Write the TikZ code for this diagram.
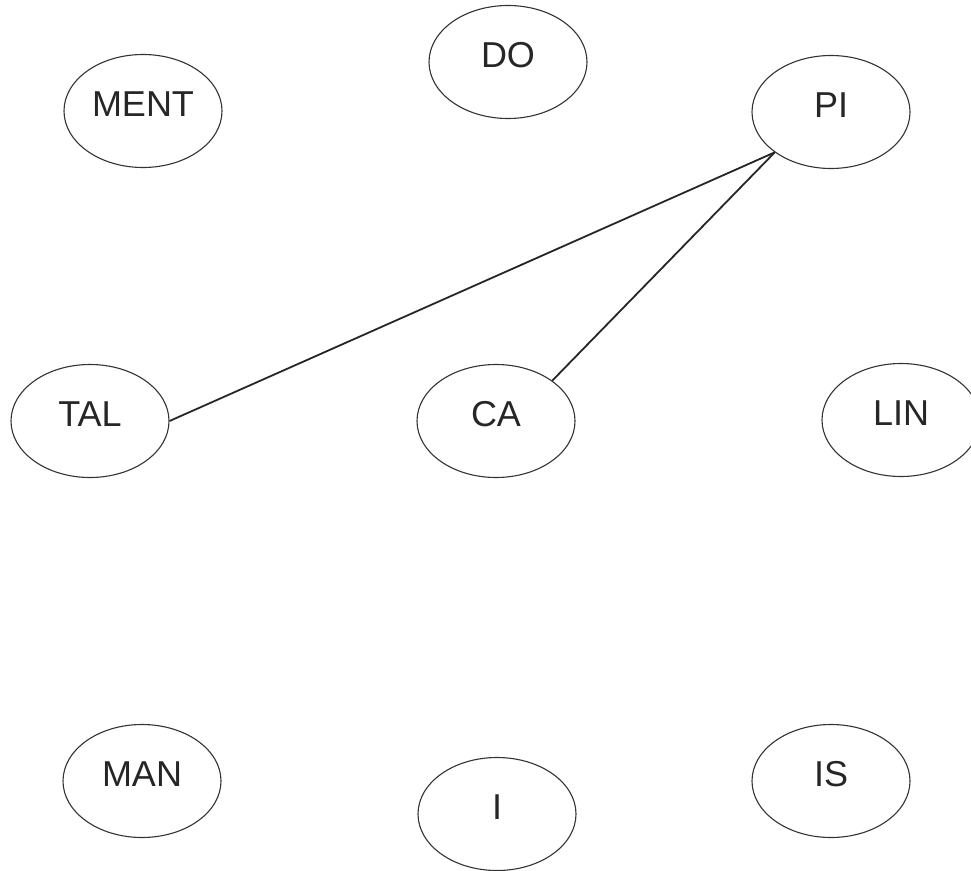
\documentclass[tikz,border=0pt]{standalone}
\usepackage{fontspec}
\setmainfont{Liberation Sans}
\usetikzlibrary{shapes.geometric}
\tikzset{
  blob/.style={draw=black!80, line width=1.1pt, ellipse, minimum width=158pt, minimum height=113pt, inner sep=0pt, font=\fontsize{36}{40}\selectfont, text=black!85, text depth=14pt},
  link/.style={draw=black!85, line width=1.8pt}
}
\begin{document}
\begin{tikzpicture}[x=1pt, y=-1pt]
\useasboundingbox (0,0) rectangle (971,870);
\node[blob] (MENT) at (143,111) {MENT};
\node[blob] (DO) at (508,62) {DO};
\node[blob] (PI) at (831,112) {PI};
\node[blob] (TAL) at (90,421) {TAL};
\node[blob] (CA) at (496,421) {CA};
\node[blob] (LIN) at (901,420) {LIN};
\node[blob] (MAN) at (142,781) {MAN};
\node[blob] (I) at (497,814) {I};
\node[blob] (IS) at (831,781) {IS};
\draw[link] (TAL.east) -- (PI.south west);
\draw[link] (CA.north east) -- (PI.south west);
\end{tikzpicture}
\end{document}
